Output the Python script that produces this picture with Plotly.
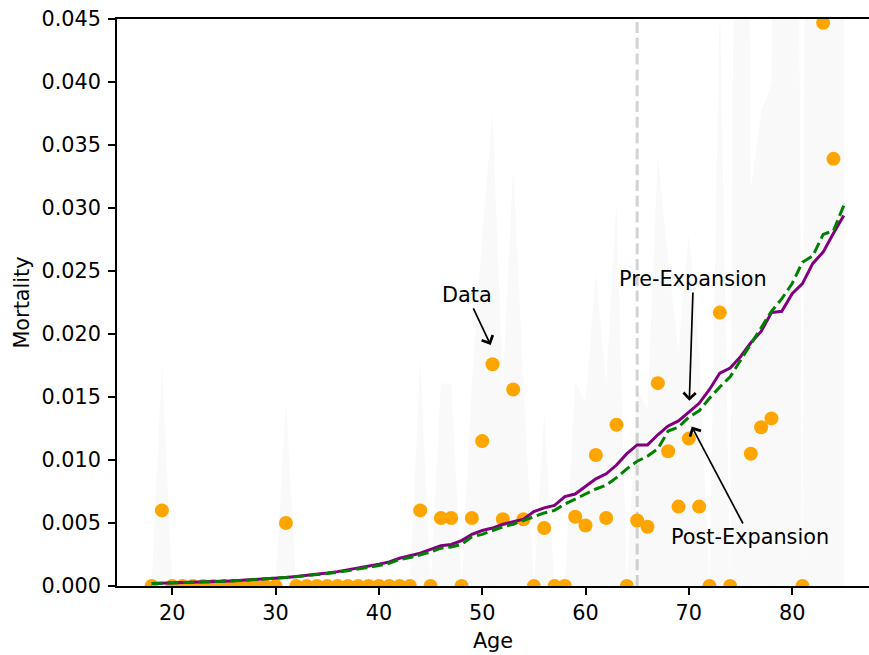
import plotly.graph_objects as go

ages = list(range(18, 86))

observed = [
    0.0, 0.0060, 0.0, 0.0, 0.0, 0.0, 0.0, 0.0, 0.0, 0.0, 0.0, 0.0, 0.0,   # 18-30
    0.0050,                                                               # 31
    0.0, 0.0, 0.0, 0.0, 0.0, 0.0, 0.0, 0.0, 0.0, 0.0, 0.0, 0.0,           # 32-43
    0.0060, 0.0, 0.0054, 0.0054, 0.0, 0.0054, 0.0115, 0.0176, 0.0053,     # 44-52
    0.0156, 0.0053, 0.0, 0.0046, 0.0, 0.0, 0.0055, 0.0048, 0.0104,        # 53-61
    0.0054, 0.0128, 0.0, 0.0052, 0.0047, 0.0161, 0.0107, 0.0063, 0.0117,  # 62-70
    0.0063, 0.0, 0.0217, 0.0, 0.050, 0.0105, 0.0126, 0.0133, 0.050,       # 71-79
    0.050, 0.0, 0.075, 0.0447, 0.0339, 0.050,                             # 80-85
]

upper = [
    0.0, 0.0177, 0.0, 0.0, 0.0, 0.0, 0.0, 0.0, 0.0, 0.0, 0.0, 0.0, 0.0,   # 18-30
    0.0148,                                                               # 31
    0.0, 0.0, 0.0, 0.0, 0.0, 0.0, 0.0, 0.0, 0.0, 0.0, 0.0, 0.0,           # 32-43
    0.0180, 0.0, 0.0161, 0.0161, 0.0, 0.0161, 0.0277, 0.0375, 0.0159,     # 44-52
    0.0333, 0.0160, 0.0, 0.0137, 0.0, 0.0, 0.0162, 0.0146, 0.0249,        # 53-61
    0.0160, 0.0306, 0.0, 0.0155, 0.0141, 0.0343, 0.0258, 0.0187, 0.0280,  # 62-70
    0.0187, 0.0, 0.0470, 0.0, 0.150, 0.0315, 0.0376, 0.0399, 0.150,       # 71-79
    0.150, 0.0, 0.225, 0.100, 0.075, 0.150,                               # 80-85
]

pre_expansion = [
    0.00020, 0.00022, 0.00024, 0.00026, 0.00029, 0.00032, 0.00035, 0.00038,  # 18-25
    0.00042, 0.00046, 0.00051, 0.00056, 0.00062, 0.00068, 0.00076, 0.00084,  # 26-33
    0.00093, 0.00103, 0.00114, 0.00127, 0.00140, 0.00155, 0.00172, 0.00191,  # 34-41
    0.0022, 0.0024, 0.0026, 0.0029, 0.0032, 0.0033, 0.0036, 0.0041,          # 42-49
    0.0044, 0.0046, 0.0049, 0.0051, 0.0053, 0.0059, 0.0062, 0.0064,          # 50-57
    0.0071, 0.0073, 0.0079, 0.0085, 0.0089, 0.0096, 0.0105, 0.0112,          # 58-65
    0.0112, 0.0120, 0.0127, 0.0131, 0.0138, 0.0145, 0.0156, 0.0169,          # 66-73
    0.0173, 0.0182, 0.0193, 0.0202, 0.0217, 0.0218, 0.0232, 0.0240,          # 74-81
    0.0256, 0.0265, 0.0280, 0.0294,                                          # 82-85
]

post_expansion = [
    0.00019, 0.00021, 0.00023, 0.00025, 0.00028, 0.00031, 0.00034, 0.00037,  # 18-25
    0.00041, 0.00045, 0.00050, 0.00055, 0.00061, 0.00067, 0.00074, 0.00082,  # 26-33
    0.00090, 0.00099, 0.00109, 0.00121, 0.00134, 0.00148, 0.00163, 0.00180,  # 34-41
    0.0021, 0.00225, 0.00245, 0.0027, 0.0030, 0.0031, 0.0033, 0.0039,        # 42-49
    0.0041, 0.0044, 0.0047, 0.0049, 0.0052, 0.0055, 0.0058, 0.0060,          # 50-57
    0.0065, 0.0069, 0.0073, 0.0077, 0.0080, 0.0086, 0.0093, 0.0099,          # 58-65
    0.0103, 0.0109, 0.0123, 0.0126, 0.0134, 0.0139, 0.0149, 0.0158,          # 66-73
    0.0166, 0.0179, 0.0193, 0.0206, 0.0218, 0.0228, 0.0240, 0.0257,          # 74-81
    0.0262, 0.0279, 0.0282, 0.0302,                                          # 82-85
]

x_ticks = [20, 30, 40, 50, 60, 70, 80]
y_ticks = [0.0, 0.005, 0.010, 0.015, 0.020, 0.025, 0.030, 0.035, 0.040, 0.045]
y_tick_labels = ["0.000", "0.005", "0.010", "0.015", "0.020", "0.025",
                 "0.030", "0.035", "0.040", "0.045"]

expansion_age = 65

FONT = "DejaVu Sans"
FS = 20.8

fig = go.Figure()

fig.add_trace(go.Scatter(
    x=ages, y=upper, mode="lines", fill="tozeroy",
    line=dict(width=0), fillcolor="rgba(128,128,128,0.05)",
    hoverinfo="skip", showlegend=False,
))

fig.add_trace(go.Scatter(
    x=ages, y=observed, mode="markers",
    marker=dict(color="#FFA500", size=14, line=dict(width=0)),
    showlegend=False,
))

fig.add_trace(go.Scatter(
    x=ages, y=pre_expansion, mode="lines",
    line=dict(color="#800080", width=3),
    showlegend=False,
))

fig.add_trace(go.Scatter(
    x=ages, y=post_expansion, mode="lines",
    line=dict(color="#008000", width=3, dash="11px,4.8px"),
    showlegend=False,
))

fig.add_shape(
    type="line", x0=expansion_age, x1=expansion_age, y0=0, y1=1,
    xref="x", yref="paper",
    line=dict(color="#d3d3d3", width=3, dash="11px,4.8px"),
    layer="below",
)

ann_font = dict(family=FONT, size=FS, color="black")
annotations = [
    dict(text="Data", x=50.82, y=0.01913, ax=48.52, ay=0.0231),
    dict(text="Pre-Expansion", x=70.05, y=0.0147, ax=70.44, ay=0.02437),
    dict(text="Post-Expansion", x=70.28, y=0.01265, ax=75.93, ay=0.00389),
]
for a in annotations:
    fig.add_annotation(
        text=a["text"], x=a["x"], y=a["y"], ax=a["ax"], ay=a["ay"],
        xref="x", yref="y", axref="x", ayref="y",
        showarrow=True, arrowhead=4, arrowsize=1.4, arrowwidth=1.7,
        arrowcolor="black", font=ann_font, standoff=0,
    )

fig.update_layout(
    width=869, height=655,
    margin=dict(l=117, r=0, t=19, b=69),
    paper_bgcolor="white", plot_bgcolor="white",
    font=dict(family=FONT, size=FS, color="black"),
    showlegend=False,
)

fig.update_xaxes(
    range=[14.65, 87.44],
    tickvals=x_ticks,
    showgrid=False, zeroline=False,
    showline=True, linecolor="black", linewidth=1.7, mirror=True,
    ticks="outside", ticklen=7, tickwidth=1.7, tickcolor="black",
    tickfont=dict(family=FONT, size=FS, color="black"),
    title=dict(text="Age", font=dict(family=FONT, size=FS, color="black"), standoff=10),
    automargin=False,
)

fig.update_yaxes(
    range=[0, 0.045],
    tickvals=y_ticks, ticktext=y_tick_labels,
    showgrid=False, zeroline=False,
    showline=True, linecolor="black", linewidth=1.7,
    ticks="outside", ticklen=7, tickwidth=1.7, tickcolor="black",
    tickfont=dict(family=FONT, size=FS, color="black"),
    ticklabelstandoff=3,
    title=dict(text="Mortality", font=dict(family=FONT, size=FS, color="black"), standoff=6),
    automargin=False,
)

fig.write_html("out.html")
